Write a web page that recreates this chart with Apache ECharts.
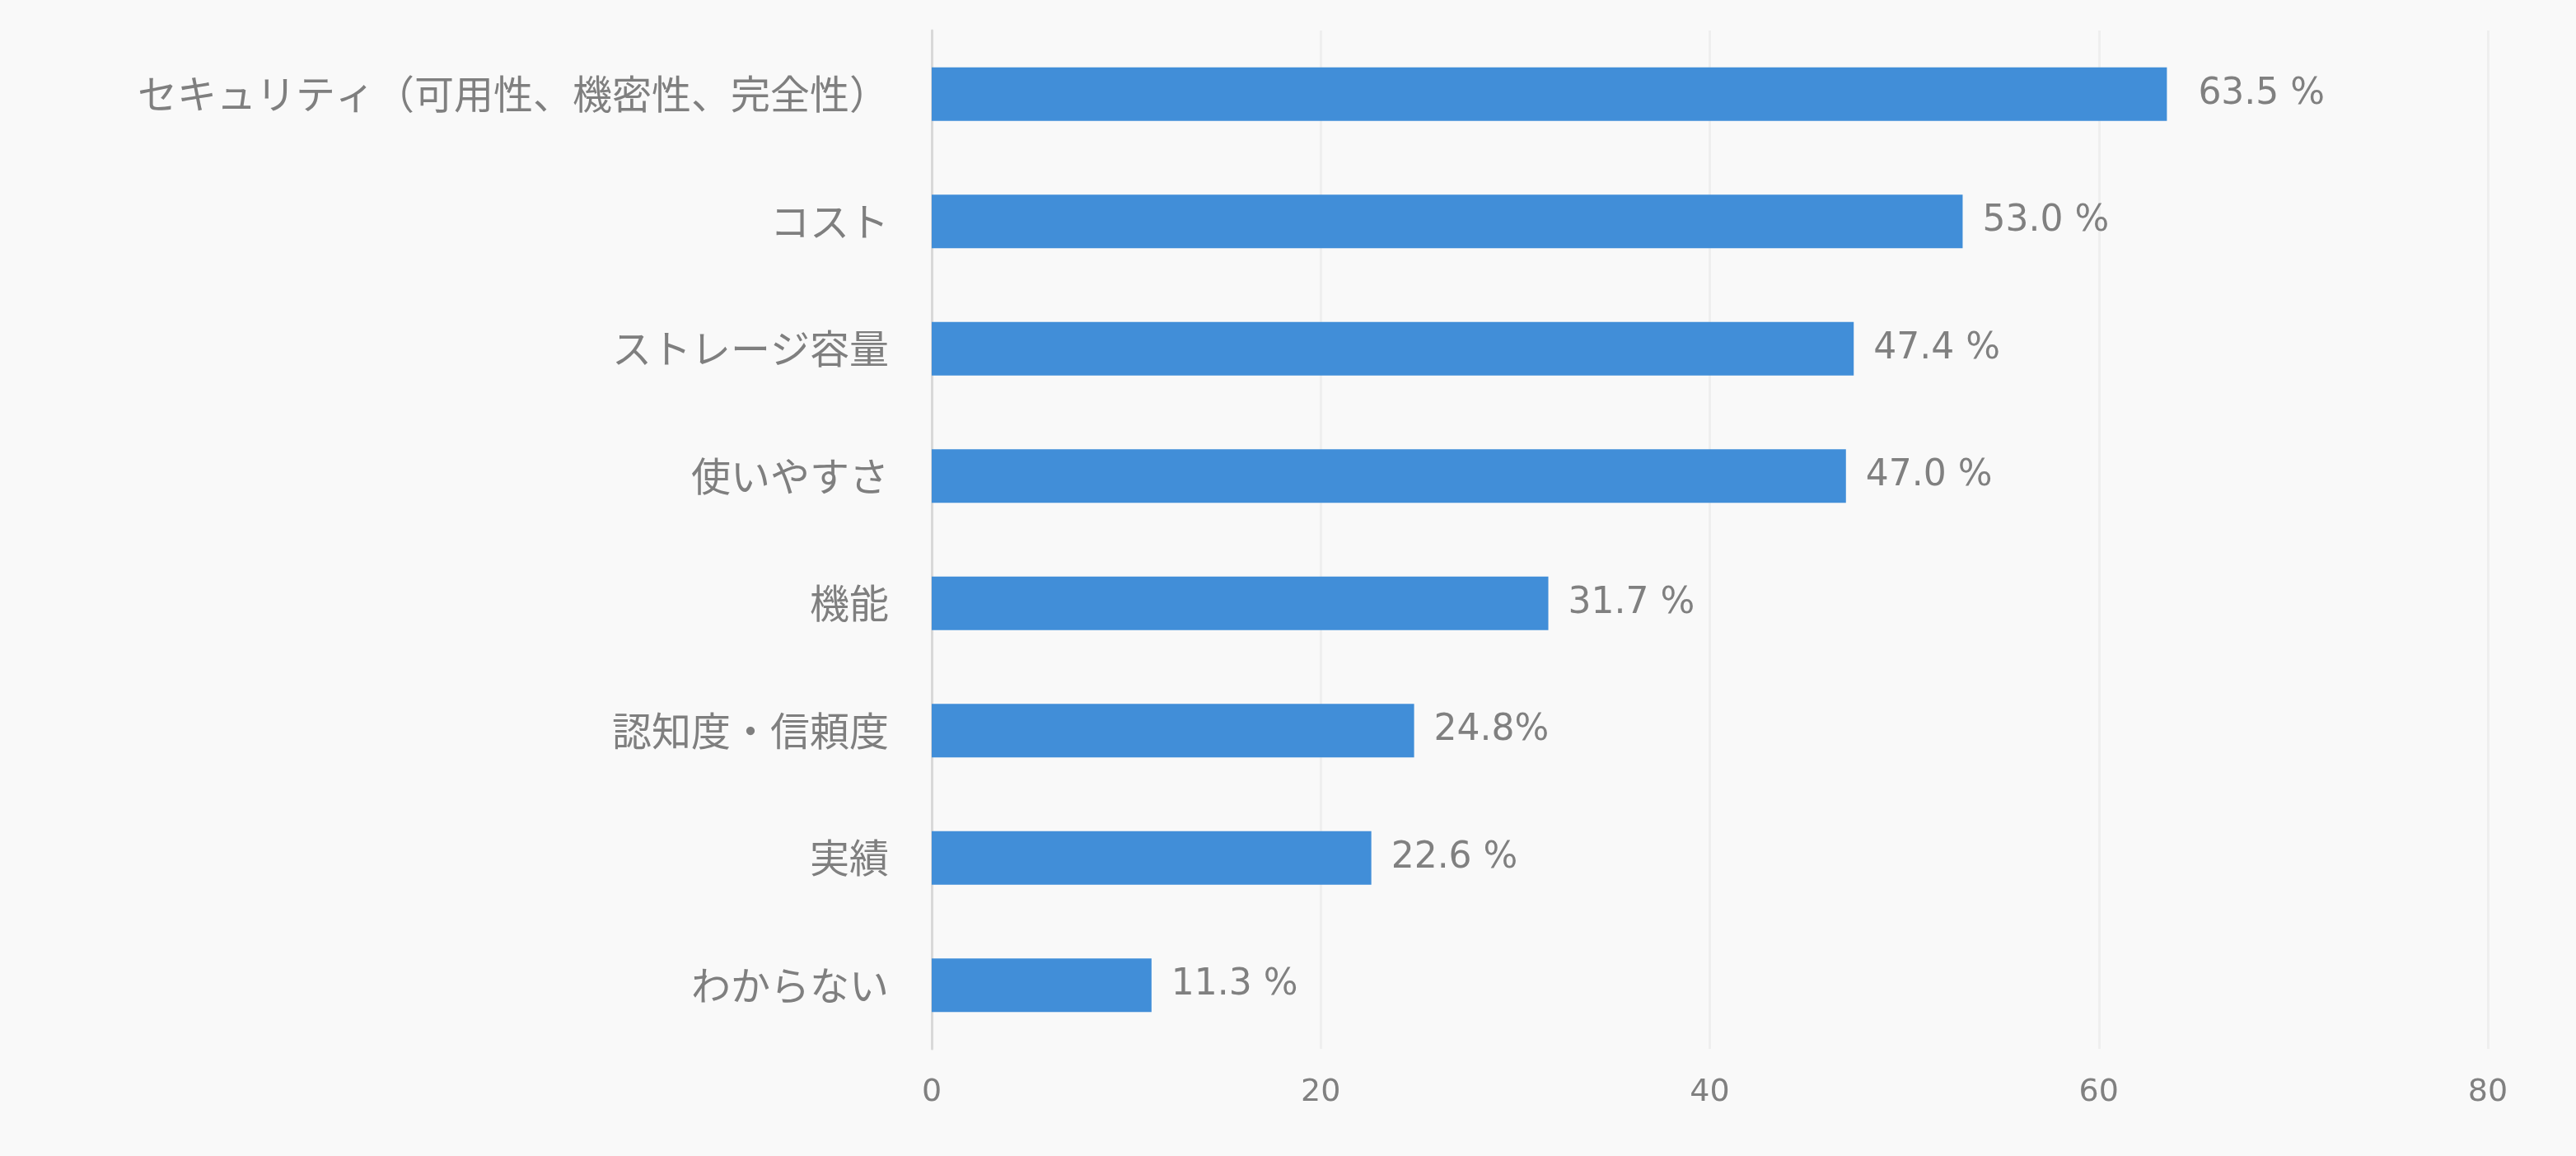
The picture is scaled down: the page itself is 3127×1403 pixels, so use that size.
<!DOCTYPE html>
<html><head><meta charset="utf-8">
<script src="https://cdn.jsdelivr.net/npm/echarts@6/dist/echarts.min.js"></script>
<style>html,body{margin:0;padding:0;background:#f9f9f9;}#c{width:3127px;height:1403px;}</style>
</head><body><div id="c"></div>
<script>
const categories = ["セキュリティ（可用性、機密性、完全性）","コスト","ストレージ容量","使いやすさ","機能","認知度・信頼度","実績","わからない"];
const values = [63.5, 53.0, 47.4, 47.0, 31.7, 24.8, 22.6, 11.3];
const valueLabels = [" 63.5 %","53.0 %","47.4 %","47.0 %","31.7 %","24.8%","22.6 %","11.3 %"];
const xTicks = [0, 20, 40, 60, 80];

const chart = echarts.init(document.getElementById('c'));
chart.setOption({
  backgroundColor: '#f9f9f9',
  animation: false,
  grid: {left: 1131, right: 107, top: 37, bottom: 130, containLabel: false},
  xAxis: {
    type: 'value', min: xTicks[0], max: xTicks[xTicks.length-1], interval: 20,
    axisLine: {show: false}, axisTick: {show: false},
    splitLine: {show: true, lineStyle: {color: '#efefef', width: 3}},
    axisLabel: {color: '#808080', fontSize: 38, fontFamily: 'DejaVu Sans', margin: 34}
  },
  yAxis: {
    type: 'category', data: categories, inverse: true,
    axisLine: {show: true, lineStyle: {color: '#d9d9d9', width: 3}},
    axisTick: {show: false},
    axisLabel: {color: '#7f7f7f', fontSize: 48, fontFamily: 'Noto Sans CJK JP', margin: 52}
  },
  series: [{
    type: 'bar', data: values, barWidth: '42%',
    itemStyle: {color: '#418ed8'},
    label: {show: true, position: 'right', distance: 24, color: '#808080', fontSize: 44, fontFamily: 'DejaVu Sans',
      formatter: p => valueLabels[p.dataIndex]}
  }]
});
</script></body></html>
